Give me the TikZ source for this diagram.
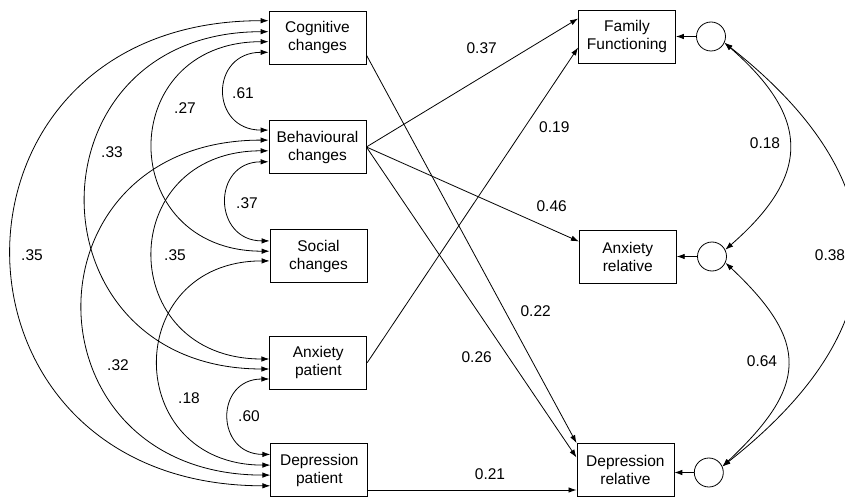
\documentclass[tikz,border=0pt]{standalone}
\usepackage{fontspec}
\setmainfont{Liberation Sans}
\usetikzlibrary{shapes.geometric, arrows.meta}

\begin{document}
\begin{tikzpicture}
                    [
                        x=1pt, y=-1pt,
                        font=\fontsize{15.5}{18}\selectfont,
                        var/.style = {draw, shape=rectangle, minimum width=97pt, minimum height=53pt, inner sep=0pt, align=center, line width=0.8pt},
                        err/.style = {draw, shape=circle, minimum size=29pt, inner sep=0pt, line width=0.8pt},
                        coef/.style = {inner sep=0pt},
                        reg/.style = {-{Latex[length=8pt,width=5.5pt]}, line width=0.8pt},
                        cov/.style = {{Latex[length=8pt,width=5.5pt]}-{Latex[length=8pt,width=5.5pt]}, line width=0.8pt},
                    ]

                    \useasboundingbox (0,0) rectangle (845,497);

                    \node[var] (cog) at (317.5,37.5)   {Cognitive\\changes};
                    \node[var] (beh) at (317.5,147)    {Behavioural\\changes};
                    \node[var] (soc) at (318.5,256)    {Social\\changes};
                    \node[var] (anxp) at (318.3,362.7) {Anxiety\\patient};
                    \node[var] (depp) at (319.3,470)   {Depression\\patient};

                    \node[var] (fam) at (627,36.5)     {Family\\Functioning};
                    \node[var] (anxr) at (627.8,256.5) {Anxiety\\relative};
                    \node[var] (depr) at (625.4,470)   {Depression\\relative};

                    \node[err] (famc) at (711,36.5)    {};
                    \node[err] (anxrc) at (712,256.5)  {};
                    \node[err] (deprc) at (708.8,472.5) {};

                    \node[coef] (c61) at (243,92.7)    {.61};
                    \node[coef] (c27) at (185,108)     {.27};
                    \node[coef] (c33) at (112,152)     {.33};
                    \node[coef] (c37) at (247,203)     {.37};
                    \node[coef] (c35a) at (32,255)     {.35};
                    \node[coef] (c35b) at (175,255)    {.35};
                    \node[coef] (c32) at (118,365)     {.32};
                    \node[coef] (c18) at (189,398)     {.18};
                    \node[coef] (c60) at (249,415.7)   {.60};

                    \node[coef] (b37) at (481.7,47.7)  {0.37};
                    \node[coef] (b19) at (554.3,126.7) {0.19};
                    \node[coef] (b46) at (551.7,205.7) {0.46};
                    \node[coef] (b22) at (535.7,311)   {0.22};
                    \node[coef] (b26) at (476.7,357.3) {0.26};
                    \node[coef] (b21) at (490,474.3)   {0.21};
                    \node[coef] (r18) at (765,143.3)   {0.18};
                    \node[coef] (r64) at (762,361)     {0.64};
                    \node[coef] (r38) at (830,255)     {0.38};

                    \draw [cov] ([yshift=16.8pt]cog.west) .. controls +(-344,0) and +(-344,0) .. ([yshift=-15.8pt]depp.west);
                    \draw [cov] ([yshift=5.8pt]cog.west) .. controls +(-244,0) and +(-244,0) .. ([yshift=-6.3pt]anxp.west);
                    \draw [cov] ([yshift=-4.2pt]cog.west) .. controls +(-155,0) and +(-155,0) .. ([yshift=4.8pt]soc.west);
                    \draw [cov] ([yshift=-14.8pt]cog.west) .. controls +(-59,0) and +(-59,0) .. ([yshift=16.9pt]beh.west);
                    \draw [cov] ([yshift=6.9pt]beh.west) .. controls +(-249,0) and +(-249,0) .. ([yshift=-5.1pt]depp.west);
                    \draw [cov] ([yshift=-3.8pt]beh.west) .. controls +(-155,0) and +(-155,0) .. ([yshift=3.7pt]anxp.west);
                    \draw [cov] ([yshift=-14.8pt]beh.west) .. controls +(-57,0) and +(-57,0) .. ([yshift=15.1pt]soc.west);
                    \draw [cov] ([yshift=-4.9pt]soc.west) .. controls +(-149,0) and +(-149,0) .. ([yshift=4.9pt]depp.west);
                    \draw [cov] ([yshift=-16.3pt]anxp.west) .. controls +(-55,0) and +(-55,0) .. ([yshift=15.6pt]depp.west);

                    \draw [reg] (beh.east) -- ([yshift=18pt]fam.west);
                    \draw [reg] (beh.east) -- ([yshift=15pt]anxr.west);
                    \draw [reg] (beh.east) -- ([yshift=12.5pt]depr.west);
                    \draw [reg] ([yshift=-17.5pt]cog.east) -- (depr.north west);
                    \draw [reg] (anxp.east) -- ([yshift=-11pt]fam.west);
                    \draw [reg] ([yshift=-20pt]depp.east) -- ([yshift=-20pt]depr.west);

                    \draw [reg] (famc.west) -- (fam.east);
                    \draw [reg] (anxrc.west) -- (anxr.east);
                    \draw [reg] (deprc.west) -- (deprc.west -| depr.east);

                    \draw [cov] (famc.-25) .. controls +(86,75) and +(86,-75) .. (anxrc.27);
                    \draw [cov] (anxrc.-25) .. controls +(85,80) and +(85,-80) .. (deprc.24);
                    \draw [cov] (famc.-25) .. controls +(178,140) and +(178,-140) .. (deprc.24);
                \end{tikzpicture}
\end{document}
